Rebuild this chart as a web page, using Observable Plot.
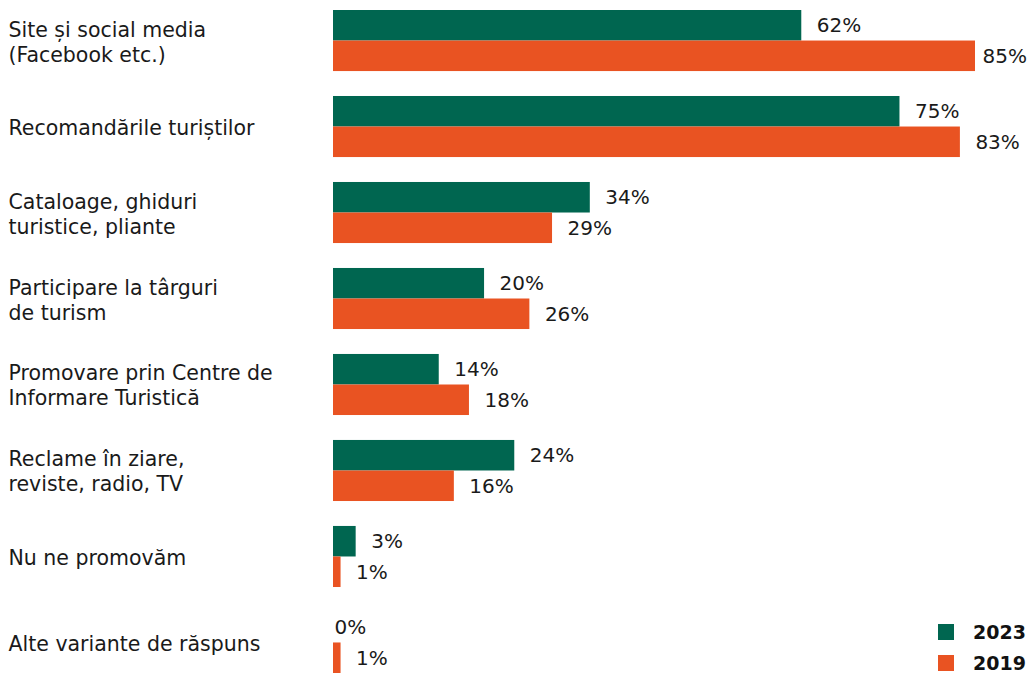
<!DOCTYPE html>
<html>
<head>
<meta charset="utf-8">
<script src="https://cdn.jsdelivr.net/npm/d3@7"></script>
<script src="https://cdn.jsdelivr.net/npm/@observablehq/plot@0.6"></script>
<style>
  html, body { margin: 0; padding: 0; background: #fff; overflow: hidden; }
  #wrap { position: relative; width: 1029px; height: 673px; font-family: "DejaVu Sans", sans-serif; }
  .legend { position: absolute; left: 938px; height: 16px; display: flex; align-items: center; font-weight: 700; font-size: 19px; color: #111; }
  .legend span.sw { display: inline-block; width: 16px; height: 16px; margin-right: 19px; }
</style>
</head>
<body>
<div id="wrap"></div>
<script>
const categories = [
  "Site și social media (Facebook etc.)",
  "Recomandările turiștilor",
  "Cataloage, ghiduri turistice, pliante",
  "Participare la târguri de turism",
  "Promovare prin Centre de Informare Turistică",
  "Reclame în ziare, reviste, radio, TV",
  "Nu ne promovăm",
  "Alte variante de răspuns"
];
const categoryLabels = [
  "Site și social media\n(Facebook etc.)",
  "Recomandările turiștilor",
  "Cataloage, ghiduri\nturistice, pliante",
  "Participare la târguri\nde turism",
  "Promovare prin Centre de\nInformare Turistică",
  "Reclame în ziare,\nreviste, radio, TV",
  "Nu ne promovăm",
  "Alte variante de răspuns"
];
const years = ["2023", "2019"];
const values2023 = [62, 75, 34, 20, 14, 24, 3, 0];
const values2019 = [85, 83, 29, 26, 18, 16, 1, 1];
const colors = ["#006650", "#E95322"];
const xMax = 85;

const data = categories.flatMap((c, i) => [
  {cat: c, year: "2023", value: values2023[i]},
  {cat: c, year: "2019", value: values2019[i]}
]);

const labelStyle = {x: "value", y: "year", fy: "cat", text: d => d.value + "%",
  textAnchor: "start", fontSize: 20, fill: "#1a1a1a"};

const chart = Plot.plot({
  width: 1029,
  height: 673,
  marginTop: 10,
  marginBottom: 0,
  marginLeft: 333,
  marginRight: 54,
  style: {fontFamily: "'DejaVu Sans', sans-serif", background: "#fff", color: "#1a1a1a"},
  x: {domain: [0, xMax], axis: null},
  y: {domain: years, axis: null, padding: 0, round: false},
  fy: {domain: categories, axis: null, paddingInner: 0.29, paddingOuter: 0, round: false},
  color: {domain: years, range: colors},
  marks: [
    Plot.barX(data, {x: "value", y: "year", fy: "cat", fill: "year"}),
    Plot.text(data.filter(d => d.value > 0 && d.value < xMax), {...labelStyle, dx: 15}),
    Plot.text(data.filter(d => d.value >= xMax), {...labelStyle, dx: 7}),
    Plot.text(data.filter(d => d.value === 0), {...labelStyle, dx: 1}),
    Plot.text(categories, {
      fy: d => d, text: (d, i) => categoryLabels[i],
      frameAnchor: "left", dx: -325, textAnchor: "start",
      fontSize: 20.5, lineHeight: 1.22, fill: "#1a1a1a"
    })
  ]
});

const wrap = document.getElementById("wrap");
wrap.appendChild(chart);

years.forEach((y, i) => {
  const div = document.createElement("div");
  div.className = "legend";
  div.style.top = (i === 0 ? 624 : 655) + "px";
  div.innerHTML = `<span class="sw" style="background:${colors[i]}"></span>${y}`;
  wrap.appendChild(div);
});
</script>
</body>
</html>
